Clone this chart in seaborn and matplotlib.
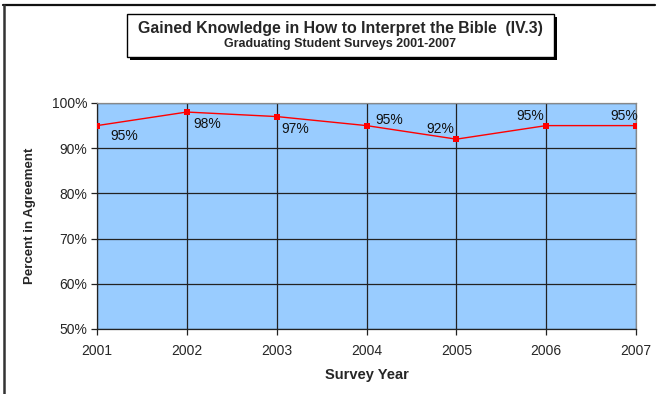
import matplotlib
matplotlib.use("Agg")
import matplotlib.pyplot as plt
from matplotlib.lines import Line2D
from matplotlib.patches import Rectangle
from matplotlib.ticker import PercentFormatter
import pandas as pd
import seaborn as sns

years = [2001, 2002, 2003, 2004, 2005, 2006, 2007]
agreement = [95, 98, 97, 95, 92, 95, 95]
value_labels = ["95%", "98%", "97%", "95%", "92%", "95%", "95%"]
# label offsets in pixels (dx, dy) relative to each point
label_offsets = [(27, -10), (20, -12), (19, -12), (23, 6), (-16, 10), (-16, 10), (-12, 10)]

sns.set_theme(style="white")
plt.rcParams["font.family"] = ["Liberation Sans", "DejaVu Sans"]

df = pd.DataFrame({"year": years, "pct": agreement})

W, H = 660, 394
fig = plt.figure(figsize=(W / 100, H / 100), dpi=100)
ax = fig.add_axes([97 / W, 1 - 329 / H, (636 - 97) / W, (329 - 103) / H])
ax.set_facecolor("#99CCFF")

sns.lineplot(data=df, x="year", y="pct", ax=ax, color="#FF0000", linewidth=1,
             marker="s", markersize=5, markeredgewidth=0, zorder=5)

ax.set_xlim(years[0], years[-1])
ax.set_ylim(50, 100)
ax.set_xticks(years)
ax.set_yticks(range(50, 101, 10))
ax.yaxis.set_major_formatter(PercentFormatter(decimals=0))
ax.grid(True, color="#222222", linewidth=0.9)
ax.set_axisbelow(True)
ax.tick_params(axis="both", which="major", labelsize=10, length=4, width=0.9,
               color="#222222", direction="out", bottom=True, left=True)
ax.tick_params(axis="x", pad=7)
ax.tick_params(axis="y", pad=3)
for name, sp in ax.spines.items():
    sp.set_visible(True)
    sp.set_linewidth(0.9)
    sp.set_color("#222222" if name in ("left", "bottom") else "#888888")

ax.set_xlabel("Survey Year", fontsize=10.5, fontweight="bold", labelpad=7)
ax.set_ylabel("Percent in Agreement", fontsize=9.5, fontweight="bold", labelpad=11)

for x, y, lab, (dx, dy) in zip(years, agreement, value_labels, label_offsets):
    ax.annotate(lab, (x, y), xytext=(dx, dy), textcoords="offset pixels",
                ha="center", va="center", fontsize=10, color="#111111",
                annotation_clip=False, zorder=6)

# title box with drop shadow
bx0, by0, bx1, by1 = 127, 14, 554, 57
fig.patches.append(Rectangle((bx0 / W + 3 / W, 1 - (by1 + 3) / H), (bx1 - bx0) / W, (by1 - by0) / H,
                             transform=fig.transFigure, facecolor="#000000", edgecolor="none", zorder=1))
fig.patches.append(Rectangle((bx0 / W, 1 - by1 / H), (bx1 - bx0) / W, (by1 - by0) / H,
                             transform=fig.transFigure, facecolor="white", edgecolor="black",
                             linewidth=1, zorder=2))
fig.text((bx0 + bx1) / 2 / W, 1 - 28 / H, "Gained Knowledge in How to Interpret the Bible  (IV.3)",
         ha="center", va="center", fontsize=11.4, fontweight="bold", zorder=3)
fig.text((bx0 + bx1) / 2 / W, 1 - 44 / H, "Graduating Student Surveys 2001-2007",
         ha="center", va="center", fontsize=9, fontweight="bold", zorder=3)

# outer frame lines (top and left)
fig.add_artist(Line2D([3 / W, 655 / W], [1 - 5 / H, 1 - 5 / H], transform=fig.transFigure,
                      color="#111111", linewidth=1.6))
fig.add_artist(Line2D([3.5 / W, 3.5 / W], [1 - 5 / H, 0], transform=fig.transFigure,
                      color="#333333", linewidth=1.8))

fig.savefig("out.png", dpi=100, facecolor="white")
